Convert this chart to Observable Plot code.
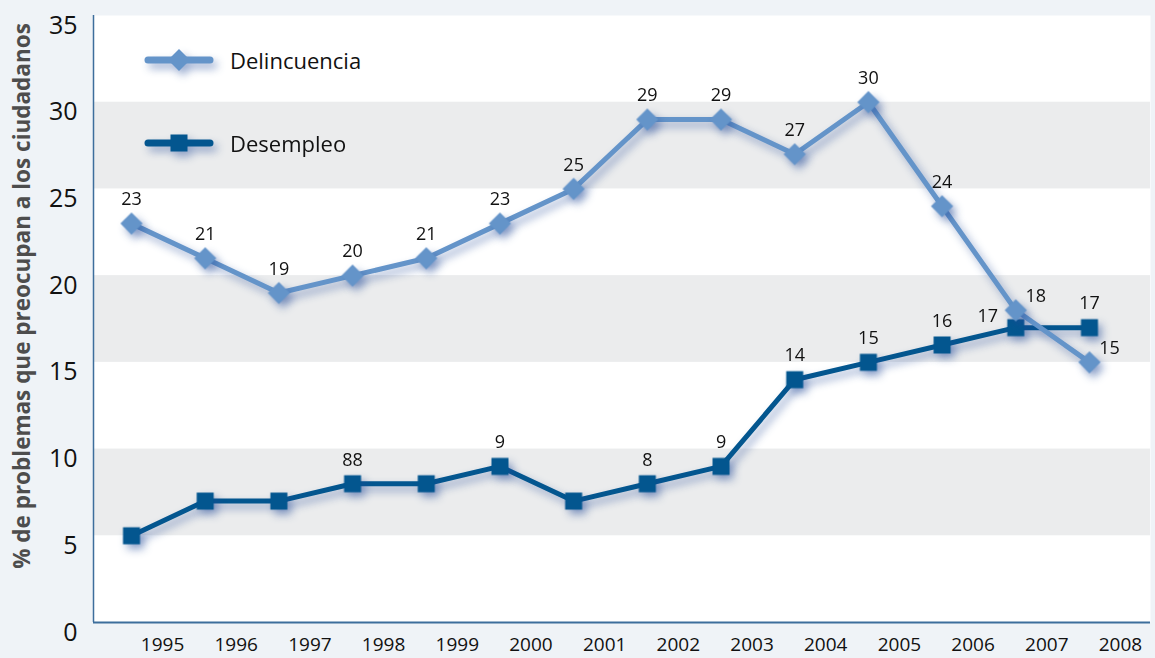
<!DOCTYPE html>
<html>
<head>
<meta charset="utf-8">
<script src="https://cdn.jsdelivr.net/npm/d3@7"></script>
<script src="https://cdn.jsdelivr.net/npm/@observablehq/plot@0.6"></script>
<style>
  html, body { margin: 0; padding: 0; background: #eff3f7; }
  #wrap { position: relative; width: 1155px; height: 658px; font-family: "Open Sans", sans-serif; }
  #legend { position: absolute; left: 140px; top: 36px; }
  .item { position: absolute; left: 0; display: flex; align-items: center; font-size: 22px; color: #111; white-space: nowrap; }
  .item svg { overflow: visible; filter: drop-shadow(4px 5px 4px rgba(30,70,150,0.45)); margin-right: 12px; }
  #ytitle { position: absolute; left: 21px; top: 296px; transform: translate(-50%, -50%) rotate(-90deg);
            white-space: nowrap; font-weight: 700; font-size: 22.5px; color: #4d4d4d; }
</style>
</head>
<body>
<div id="wrap"></div>
<script>
const years = [1995,1996,1997,1998,1999,2000,2001,2002,2003,2004,2005,2006,2007,2008];
const delincuencia = [23,21,19,20,21,23,25,29,29,27,30,24,18,15];
const desempleo = [5,7,7,8,8,9,7,8,9,14,15,16,17,17];
const delLabels = ["23","21","19","20","21","23","25","29","29","27","30","24","18","15"];
const desLabels = [null,null,null,"88",null,"9",null,"8","9","14","15","16","17","17"];
const yTicks = [0,5,10,15,20,25,30,35];
const bands = [[5,10],[15,20],[25,30]];
const seriesNames = ["Delincuencia","Desempleo"];

const colDel = "#6494c9";
const colDes = "#03568f";

const del = years.map((y,i)=>({year:y, v:delincuencia[i], label:delLabels[i], i}));
const des = years.map((y,i)=>({year:y, v:desempleo[i], label:desLabels[i], i}));

const special = new Set([12,13]);

const chart = Plot.plot({
  width: 1155, height: 658,
  marginLeft: 93, marginRight: 5, marginTop: 15, marginBottom: 36,
  style: {fontFamily: "'Open Sans', sans-serif", background: "transparent", overflow: "visible"},
  x: {domain: [1994.484, 2008.828]},
  y: {domain: [0, 35]},
  marks: [
    Plot.frame({fill: "white", stroke: null}),
    Plot.rect(bands, {y1: d=>d[0], y2: d=>d[1], fill: "#ebeced"}),
    Plot.ruleX([1994.484], {stroke: "#3d6e9c", strokeWidth: 1.5}),
    Plot.ruleY([0], {stroke: "#3d6e9c", strokeWidth: 2}),
    Plot.axisY({ticks: yTicks, tickSize: 0, tickPadding: 16, dy: 10, fontSize: 25, fill: "#111", label: null}),
    Plot.axisX({ticks: years, tickFormat: d=>String(d), tickSize: 0, tickPadding: 15, dx: 31, fontSize: 19, fill: "#111", label: null}),
    Plot.line(des, {x: "year", y: "v", stroke: colDes, strokeWidth: 5}),
    Plot.dot(des, {x: "year", y: "v", symbol: "square", r: 9.6, fill: colDes}),
    Plot.line(del, {x: "year", y: "v", stroke: colDel, strokeWidth: 5}),
    Plot.dot(del, {x: "year", y: "v", symbol: "diamond2", r: 10, fill: colDel}),
    Plot.text(del.filter(d=>!special.has(d.i)), {x: "year", y: "v", text: "label", dy: -24, fontSize: 18, fill: "#111"}),
    Plot.text(del.filter(d=>special.has(d.i)), {x: "year", y: "v", text: "label", dx: 20, dy: -14, fontSize: 18, fill: "#111"}),
    Plot.text(des.filter(d=>d.label && d.i !== 12), {x: "year", y: "v", text: "label", dy: -24, fontSize: 18, fill: "#111"}),
    Plot.text(des.filter(d=>d.i === 12), {x: "year", y: "v", text: "label", dx: -28, dy: -11, fontSize: 18, fill: "#111"})
  ]
});

const svg = d3.select(chart);
svg.selectAll('g[aria-label="line"], g[aria-label="dot"]')
   .style("filter", "drop-shadow(4px 5px 4px rgba(30,70,150,0.45))");

const wrap = document.getElementById("wrap");
wrap.appendChild(chart);

const legend = document.createElement("div");
legend.id = "legend";
const mk = (name, color, shape, top) => {
  const shapeSvg = shape === "diamond"
    ? `<path d="M39 11 L50 22 L39 33 L28 22 Z" fill="${color}"/>`
    : `<rect x="30.5" y="13.5" width="17" height="17" fill="${color}"/>`;
  return `<div class="item" style="top:${top}px"><svg width="78" height="44" viewBox="0 0 78 44">
    <line x1="8" y1="22" x2="70" y2="22" stroke="${color}" stroke-width="7" stroke-linecap="round"/>${shapeSvg}</svg><span>${name}</span></div>`;
};
legend.innerHTML = mk(seriesNames[0], colDel, "diamond", 2) + mk(seriesNames[1], colDes, "square", 85);
wrap.appendChild(legend);

const yt = document.createElement("div");
yt.id = "ytitle";
yt.textContent = "% de problemas que preocupan a los ciudadanos";
wrap.appendChild(yt);
</script>
</body>
</html>
